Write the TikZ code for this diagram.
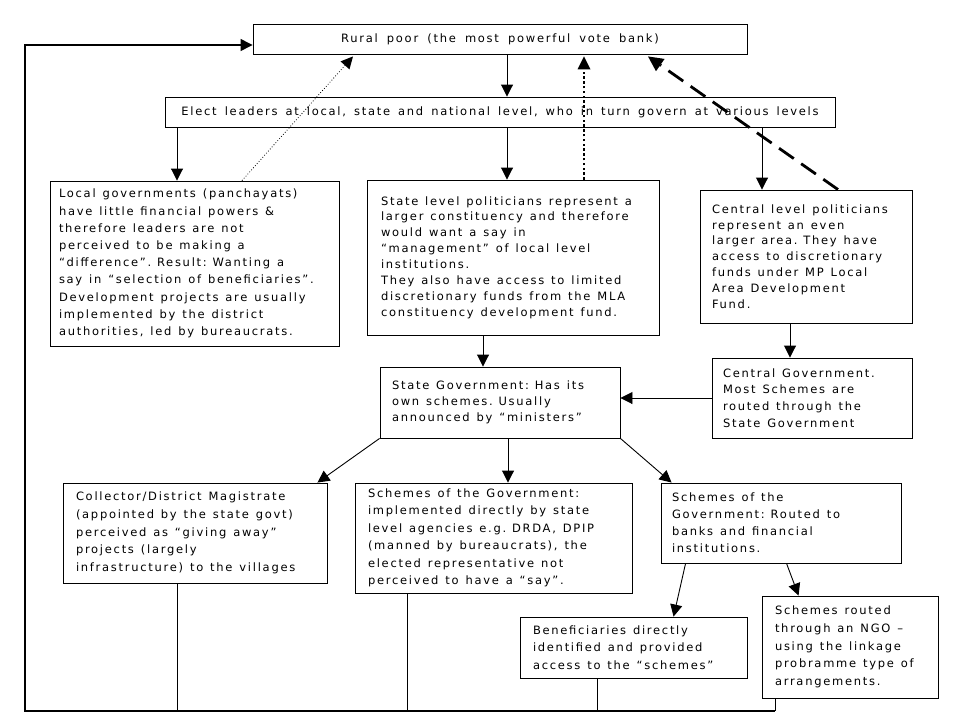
\documentclass[tikz,border=0pt]{standalone}
\usepackage{fontspec}
\setmainfont{DejaVu Sans}[LetterSpace=15, WordSpace=1.7]
\usetikzlibrary{arrows.meta,calc}
\tikzset{
  box/.style={draw, line width=0.9pt, rectangle, align=left, inner ysep=2pt, inner xsep=2pt,
    font=\fontsize{11.5}{15.7}\selectfont},
  arr/.style={line width=0.9pt, -{Triangle[length=12pt,width=12pt]}},
  plain/.style={line width=0.9pt},
  thindot/.style={line width=0.8pt, dotted, -{Triangle[length=12pt,width=12pt,line width=0pt]}},
  thickdot/.style={line width=2.4pt, dash pattern=on 2.4pt off 2.4pt, -{Triangle[length=13pt,width=13pt,line width=0pt]}},
  thickdash/.style={line width=2.8pt, dash pattern=on 18pt off 9pt, -{Triangle[length=15pt,width=15pt,line width=0pt]}},
}
\newcommand{\bx}[8]{% name, cx, cy, w, h, inset, baselineskip, text
  \pgfmathsetmacro{\tw}{#4-4}
  \node[box, minimum width=#4pt, minimum height=#5pt, text width=\tw pt] (#1) at (#2,#3)
    {\fontsize{11.5}{#7pt}\selectfont\leftskip=#6pt\relax\spaceskip=0.6em plus 0.05em minus 0.05em\relax #8\par};
}
\begin{document}
\begin{tikzpicture}[x=1pt,y=-1pt]
\useasboundingbox (0,0) rectangle (960,720);
\fill[white] (0,0) rectangle (960,720);

\node[box, minimum width=494pt, minimum height=30pt, align=center] (rural) at (500,39) {Rural poor (the most powerful vote bank)};
\node[box, minimum width=670pt, minimum height=30pt, align=center] (elect) at (500,112) {\spaceskip=0.7em\relax Elect leaders at local, state and national level, who in turn govern at various levels};

\bx{local}{194.5}{263.5}{289}{165}{7}{17.2}{Local governments (panchayats)\\have little financial powers \&\\therefore leaders are not\\perceived to be making a\\“difference”. Result: Wanting a\\say in “selection of beneficiaries”.\\Development projects are usually\\implemented by the district\\authorities, led by bureaucrats.}
\bx{statelvl}{513}{257.5}{292}{155}{12}{15.9}{State level politicians represent a\\larger constituency and therefore\\would want a say in\\“management” of local level\\institutions.\\They also have access to limited\\discretionary funds from the MLA\\constituency development fund.}
\bx{central}{806}{256.5}{212}{133}{10}{15.8}{Central level politicians\\represent an even\\larger area. They have\\access to discretionary\\funds under MP Local\\Area Development\\Fund.}
\bx{centgov}{812}{398}{200}{80}{9}{16.7}{Central Government.\\Most Schemes are\\routed through the\\State Government}
\bx{stategov}{500}{402.5}{240}{71}{10}{15.8}{State Government: Has its\\own schemes. Usually\\announced by “ministers”}
\bx{collector}{195}{533}{264}{100}{11}{17.6}{Collector/District Magistrate\\(appointed by the state govt)\\perceived as “giving away”\\projects (largely\\infrastructure) to the villages}
\bx{direct}{493.5}{538}{277}{110}{11}{17.5}{Schemes of the Government:\\implemented directly by state\\level agencies e.g. DRDA, DPIP\\(manned by bureaucrats), the\\elected representative not\\perceived to have a “say”.}
\bx{banks}{781}{523}{240}{80}{9}{16.9}{Schemes of the\\Government: Routed to\\banks and financial\\institutions.}
\bx{benef}{633.5}{647.5}{227}{61}{11}{17.3}{Beneficiaries directly\\identified and provided\\access to the “schemes”}
\bx{ngo}{850}{647}{176}{102}{11}{17.6}{Schemes routed\\through an NGO –\\using the linkage\\probramme type of\\arrangements.}

\coordinate (bl) at (25,711);
\coordinate (br) at (775,711);

% top arrows
\draw[arr] ([xshift=7pt]rural.south) -- ([xshift=7pt]rural.south |- elect.north);
\draw[arr] ([xshift=-17.5pt]local.north |- elect.south) -- ([xshift=-17.5pt]local.north);
\draw[arr] ([xshift=-6pt]statelvl.north |- elect.south) -- ([xshift=-6pt]statelvl.north);
\draw[arr] ([xshift=-44pt]central.north |- elect.south) -- ([xshift=-44pt]central.north);

% feedback arrows
\draw[thindot] ([xshift=47.5pt]local.north) -- ([xshift=-147pt,yshift=-2pt]rural.south);
\draw[thickdot] ([xshift=71pt]statelvl.north) -- ([xshift=71pt,yshift=-2pt]statelvl.north |- rural.south);
\draw[thickdash] ([xshift=32pt]central.north) -- ([xshift=148pt,yshift=-2pt]rural.south);

% middle
\draw[arr] ([xshift=-30pt]statelvl.south) -- ([xshift=-30pt]statelvl.south |- stategov.north);
\draw[arr] ([xshift=-16pt]central.south) -- ([xshift=-16pt]central.south |- centgov.north);
\draw[arr] (centgov.west) -- (centgov.west -| stategov.east);

\draw[arr] (stategov.south west) -- ([xshift=-10pt]collector.north east);
\draw[arr] ([xshift=8pt]stategov.south) -- ([xshift=8pt]stategov.south |- direct.north);
\draw[arr] (stategov.south east) -- ([xshift=11pt]banks.north west);

\draw[arr] ([xshift=25pt]banks.south west) -- ([xshift=154pt]benef.north west);
\draw[arr] ([xshift=126pt]banks.south west) -- ([xshift=37pt]ngo.north west);

% bottom return lines
\draw[plain] ([xshift=-18pt]collector.south) -- ([xshift=-18pt]collector.south |- bl);
\draw[plain] ([xshift=-86.5pt]direct.south) -- ([xshift=-86.5pt]direct.south |- bl);
\draw[plain] ([xshift=-36.5pt]benef.south) -- ([xshift=-36.5pt]benef.south |- bl);
\draw[plain] ([xshift=-75pt]ngo.south) -- ([xshift=-75pt]ngo.south |- bl);
\draw[line width=2.6pt] ([xshift=-0.8pt]bl) -- (br);
\draw[line width=1.3pt, -{Triangle[length=12pt,width=12pt]}] (bl) |- ([yshift=-6pt]rural.west);
\end{tikzpicture}
\end{document}
